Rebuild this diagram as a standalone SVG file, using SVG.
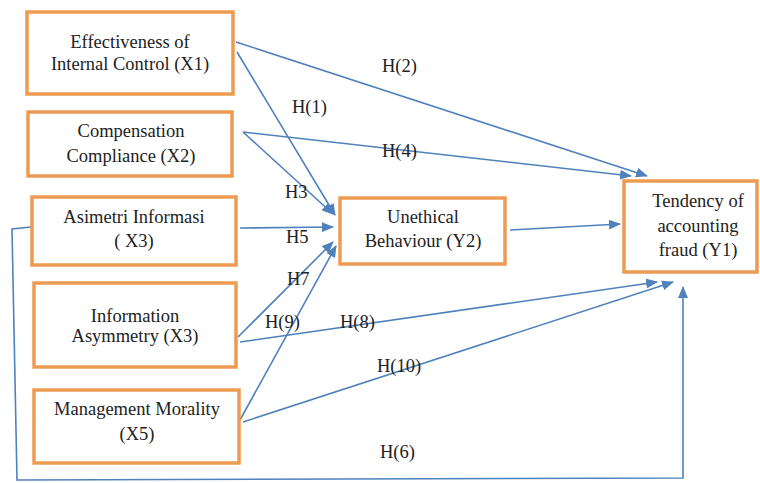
<svg xmlns="http://www.w3.org/2000/svg" width="760" height="483" viewBox="0 0 760 483">
<defs>
<marker id="ah" markerUnits="userSpaceOnUse" markerWidth="12" markerHeight="10" refX="11" refY="5" orient="auto">
<path d="M0,0 L12,5 L0,10 Z" fill="#4F81BD"/>
</marker>
<style>
.box{fill:#FFFFFF;stroke:#EE9B52;stroke-width:3.5}
.t{font-family:"Liberation Serif","Times New Roman",serif;font-size:18.5px;fill:#222;text-anchor:middle}
.lbl{font-family:"Liberation Serif","Times New Roman",serif;font-size:18.5px;fill:#222}
.c{fill:none;stroke:#4F81BD;stroke-width:1.6}
.a{marker-end:url(#ah)}
</style>
</defs>
<rect width="760" height="483" fill="#FFFFFF"/>
<g id="connectors">
<line class="c a" x1="236" y1="42" x2="647" y2="176"/>
<line class="c a" x1="237" y1="52" x2="335" y2="215"/>
<line class="c a" x1="243" y1="132" x2="333" y2="214"/>
<line class="c a" x1="243" y1="132" x2="631" y2="176"/>
<line class="c a" x1="240" y1="228" x2="333" y2="227"/>
<line class="c a" x1="238" y1="337" x2="333" y2="242"/>
<line class="c a" x1="240" y1="342" x2="657" y2="282"/>
<line class="c a" x1="240" y1="420" x2="336" y2="246"/>
<line class="c a" x1="243" y1="422" x2="673" y2="282"/>
<line class="c a" x1="510" y1="230" x2="620" y2="224"/>
<path class="c a" d="M31,227 L12,229 L17,480 L683,478 L683,287"/>
<text class="lbl" x="382" y="72">H(2)</text>
<text class="lbl" x="292" y="113">H(1)</text>
<text class="lbl" x="382" y="157">H(4)</text>
<text class="lbl" x="285" y="198">H3</text>
<text class="lbl" x="286" y="243">H5</text>
<text class="lbl" x="287" y="285">H7</text>
<text class="lbl" x="265" y="328">H(9)</text>
<text class="lbl" x="340" y="328">H(8)</text>
<text class="lbl" x="377" y="372">H(10)</text>
<text class="lbl" x="380" y="458">H(6)</text>
</g>
<g id="x1">
<rect class="box" x="27" y="12" width="206" height="82"/>
<text class="t" x="130" y="48">Effectiveness of</text>
<text class="t" x="130" y="70">Internal Control (X1)</text>
</g>
<g id="x2">
<rect class="box" x="28" y="112" width="204" height="64"/>
<text class="t" x="131" y="137">Compensation</text>
<text class="t" x="131" y="162">Compliance (X2)</text>
</g>
<g id="x3">
<rect class="box" x="32" y="197" width="204" height="68"/>
<text class="t" x="134" y="223">Asimetri Informasi</text>
<text class="t" x="134" y="247">( X3)</text>
</g>
<g id="x3b">
<rect class="box" x="34" y="283" width="202" height="84"/>
<text class="t" x="135" y="322">Information</text>
<text class="t" x="135" y="342">Asymmetry (X3)</text>
</g>
<g id="x5">
<rect class="box" x="34" y="390" width="205" height="73"/>
<text class="t" x="137" y="415">Management Morality</text>
<text class="t" x="137" y="440">(X5)</text>
</g>
<g id="y2">
<rect class="box" x="340" y="198" width="165" height="66"/>
<text class="t" x="423" y="223">Unethical</text>
<text class="t" x="423" y="247">Behaviour (Y2)</text>
</g>
<g id="y1">
<rect class="box" x="624" y="181" width="133" height="91"/>
<text class="t" x="698" y="207">Tendency of</text>
<text class="t" x="698" y="232">accounting</text>
<text class="t" x="698" y="256">fraud (Y1)</text>
</g>
</svg>
